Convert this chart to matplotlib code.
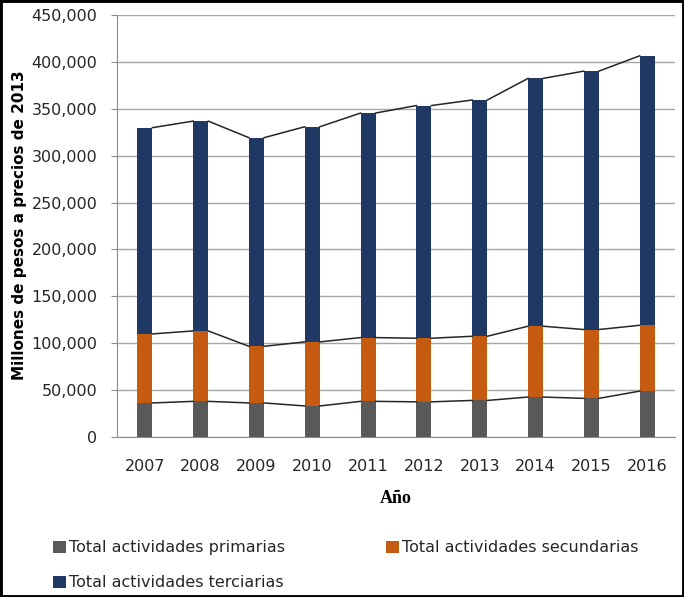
import matplotlib
matplotlib.use('Agg')
import matplotlib.pyplot as plt
from matplotlib.patches import Rectangle
import numpy as np

years = ['2007', '2008', '2009', '2010', '2011', '2012', '2013', '2014', '2015', '2016']
primarias = [36300, 38000, 36300, 33100, 38000, 37500, 39000, 42600, 41200, 48900]
secundarias = [73600, 75100, 60400, 68300, 68000, 67800, 68400, 75500, 73400, 70200]
terciarias = [219900, 223700, 222400, 229400, 239400, 248100, 251900, 264200, 275500, 287300]

labels = ['Total actividades primarias', 'Total actividades secundarias',
          'Total actividades terciarias']
colors = ['#595959', '#c55a11', '#1f3864']

plt.rcParams['font.family'] = ['DejaVu Sans']

fig = plt.figure(figsize=(6.84, 5.97), dpi=100)
ax = fig.add_axes([0.171, 0.268, 0.816, 0.707])

x = np.arange(len(years))
w = 0.27
bottom = np.zeros(len(years))
handles = []
for vals, col, lab in zip([primarias, secundarias, terciarias], colors, labels):
    b = ax.bar(x, vals, w, bottom=bottom, color=col, label=lab, zorder=3)
    handles.append(b)
    bottom = bottom + np.array(vals)
    # series lines joining the tops of consecutive bars
    for i in range(len(years) - 1):
        ax.plot([x[i] + w / 2, x[i + 1] - w / 2], [bottom[i], bottom[i + 1]],
                color='#262626', lw=1.1, zorder=4)

ax.set_xlim(-0.5, len(years) - 0.5)
ax.set_ylim(0, 450000)
ax.set_yticks(np.arange(0, 450001, 50000))
ax.yaxis.set_major_formatter(matplotlib.ticker.FuncFormatter(lambda v, p: '{:,.0f}'.format(v)))
ax.set_xticks(x)
ax.set_xticklabels(years)
ax.tick_params(axis='y', length=4, color='#8c8c8c', labelsize=11.5, pad=10, labelcolor='#262626')
ax.tick_params(axis='x', length=0, labelsize=11.5, pad=16, labelcolor='#262626')
ax.grid(axis='y', color='#a6a6a6', linewidth=1, zorder=0)
for s in ['top', 'right']:
    ax.spines[s].set_visible(False)
for s in ['left', 'bottom']:
    ax.spines[s].set_color('#8c8c8c')

ax.set_xlabel('Año', family='Liberation Serif', fontweight='bold', fontsize=13, labelpad=11)
fig.text(0.028, 0.622, 'Millones de pesos a precios de 2013', rotation=90,
         fontweight='bold', fontsize=11, ha='center', va='center')

fig.legend([handles[0], handles[2], handles[1]], [labels[0], labels[2], labels[1]],
           ncol=2, loc='upper left', bbox_to_anchor=(0.078, 0.095), frameon=False,
           fontsize=11.5, handlelength=0.8, handleheight=0.8, handletextpad=0.2,
           columnspacing=6.3, labelspacing=1.25, borderpad=0, borderaxespad=0,
           labelcolor='#262626')

fig.patches.append(Rectangle((0, 0), 1, 1, transform=fig.transFigure, fill=False,
                             edgecolor='black', linewidth=3.5))

fig.savefig('out.png', dpi=100)
